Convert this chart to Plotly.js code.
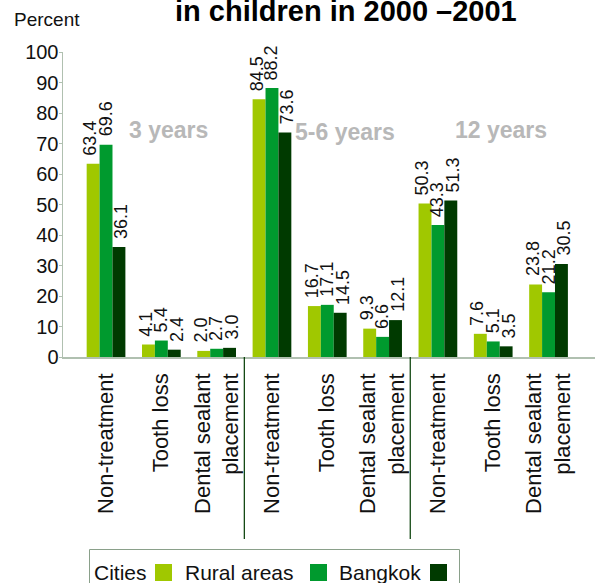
<!DOCTYPE html>
<html>
<head>
<meta charset="utf-8">
<script src="https://cdn.plot.ly/plotly-3.0.1.min.js"></script>
<style>html,body{margin:0;padding:0;background:#fff;}#chart{width:595px;height:583px;}</style>
</head>
<body>
<div id="chart"></div>
<script>
const categories = ["Non-treatment","Tooth loss","Dental sealant<br>placement","Non-treatment","Tooth loss","Dental sealant<br>placement","Non-treatment","Tooth loss","Dental sealant<br>placement"];
const ageGroups = ["3 years","5-6 years","12 years"];
const seriesNames = ["Cities","Rural areas","Bangkok"];
const cities = [63.4, 4.1, 2.0, 84.5, 16.7, 9.3, 50.3, 7.6, 23.8];
const rural = [69.6, 5.4, 2.7, 88.2, 17.1, 6.6, 43.3, 5.1, 21.2];
const bangkok = [36.1, 2.4, 3.0, 73.6, 14.5, 12.1, 51.3, 3.5, 30.5];
const colors = ["#a0c800", "#009a2e", "#003a00"];
const yTicks = [0,10,20,30,40,50,60,70,80,90,100];

const FONT = "Liberation Sans, Arial, Helvetica, sans-serif";
const W = 595, H = 583, L = 63, R = 0, T = 52, B = 226;
const pw = W - L - R, ph = H - T - B;
const px = x => (x - L) / pw;
const py = y => (H - B - y) / ph;

const xIdx = categories.map((_, i) => i);
const series = [cities, rural, bangkok];
const BARGAP = 0.3;
const barW = (1 - BARGAP) / 3;
const traces = series.map((vals, k) => ({
  type: "bar",
  name: seriesNames[k],
  x: xIdx,
  y: vals,
  marker: {color: colors[k], line: {width: 0}},
  hoverinfo: "skip",
  showlegend: false
}));

const annotations = [];
// value labels above bars
series.forEach((vals, k) => vals.forEach((v, i) => annotations.push({
  xref: "x", yref: "y", x: i + (k - 1) * barW * 1.2, y: v,
  xanchor: "center", yanchor: "bottom", textangle: -90, yshift: 7,
  text: v.toFixed(1), showarrow: false, borderpad: 0,
  font: {family: FONT, size: 18, color: "#111"}
})));
annotations.push({xref: "paper", yref: "paper", x: px(346), y: py(23), xanchor: "center", yanchor: "bottom",
  text: "<b>in children in 2000 \u20132001</b>", showarrow: false, font: {family: FONT, size: 29, color: "#000"}, yshift: -6});
annotations.push({xref: "paper", yref: "paper", x: px(12), y: py(20), xanchor: "left", yanchor: "middle",
  text: "Percent", showarrow: false, font: {family: FONT, size: 19, color: "#111"}});
const agePos = [[168, 130], [345, 132], [501, 130]];
ageGroups.forEach((g, i) => annotations.push({xref: "paper", yref: "paper", x: px(agePos[i][0]), y: py(agePos[i][1]),
  xanchor: "center", yanchor: "middle", text: "<b>" + g + "</b>", showarrow: false,
  font: {family: FONT, size: 23, color: "#b8b8b8"}}));

// legend (text before swatch)
const legText = [{t: "Cities", x: 94}, {t: "Rural areas", x: 185}, {t: "Bangkok", x: 339}];
const swX = [155, 310, 430];
legText.forEach(o => annotations.push({xref: "paper", yref: "paper", x: px(o.x), y: py(572), xanchor: "left", yanchor: "middle",
  text: o.t, showarrow: false, font: {family: FONT, size: 21, color: "#111"}, xshift: -2}));

const shapes = [];
shapes.push({type: "rect", xref: "paper", yref: "paper", x0: px(89.5), x1: px(459.5), y0: py(549.5), y1: py(600),
  line: {color: "#8aa08a", width: 1}, fillcolor: "rgba(0,0,0,0)"});
swX.forEach((x, k) => shapes.push({type: "rect", xref: "paper", yref: "paper", x0: px(x), x1: px(x + 17), y0: py(564), y1: py(581),
  line: {width: 0}, fillcolor: colors[k]}));
[2.5, 5.5].forEach(v => shapes.push({type: "line", xref: "x", yref: "paper", x0: v, x1: v, y0: 0, y1: py(539),
  line: {color: "#003a00", width: 1.2}}));

const layout = {
  width: W, height: H,
  margin: {l: L, r: R, t: T, b: B},
  paper_bgcolor: "#fff", plot_bgcolor: "#fff",
  barmode: "group", bargap: BARGAP, bargroupgap: 0,
  showlegend: false,
  xaxis: {
    range: [-0.778, 8.84], tickmode: "array", tickvals: xIdx, ticktext: categories,
    tickangle: -90, ticks: "", showgrid: false, zeroline: false,
    showline: true, linecolor: "#b0c0b0", linewidth: 1.5,
    tickfont: {family: FONT, size: 22, color: "#111"}, ticklabelstandoff: 6
  },
  yaxis: {
    range: [0, 100], tickmode: "array", tickvals: yTicks, ticktext: yTicks.map(String),
    ticks: "outside", ticklen: 3, tickcolor: "#b0c0b0", showgrid: false, zeroline: false,
    showline: true, linecolor: "#b0c0b0", linewidth: 1.5,
    tickfont: {family: FONT, size: 20, color: "#111"}, ticklabelstandoff: -4
  },
  annotations: annotations,
  shapes: shapes
};

Plotly.newPlot("chart", traces, layout, {displayModeBar: false, staticPlot: true});
</script>
</body>
</html>
